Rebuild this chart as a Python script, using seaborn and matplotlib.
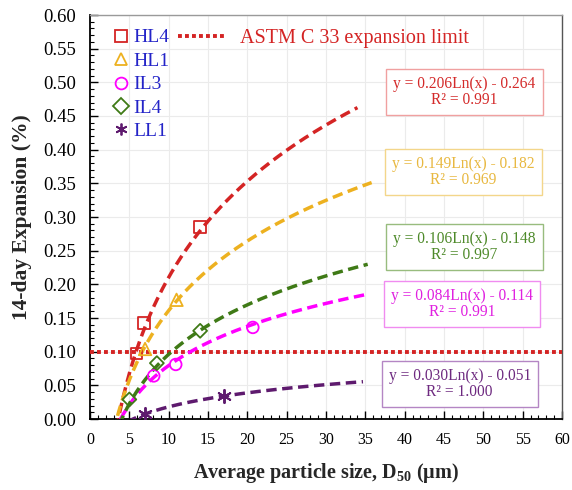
import numpy as np
import pandas as pd
import matplotlib
matplotlib.use('Agg')
import matplotlib.pyplot as plt
import seaborn as sns
from matplotlib.ticker import MultipleLocator, FormatStrFormatter
from matplotlib.lines import Line2D

# ---------------- data ----------------
series = ['HL4', 'HL1', 'IL3', 'IL4', 'LL1']
hl4_x = [5.9, 6.9, 14.0]
hl4_y = [0.097, 0.143, 0.285]
hl1_x = [7.0, 11.0]
hl1_y = [0.104, 0.177]
il3_x = [8.1, 10.9, 20.7]
il3_y = [0.064, 0.081, 0.136]
il4_x = [5.0, 8.5, 14.0]
il4_y = [0.029, 0.083, 0.131]
ll1_x = [7.0, 17.0]
ll1_y = [0.007, 0.034]
slopes = [0.206, 0.149, 0.084, 0.106, 0.030]
intercepts = [-0.264, -0.182, -0.114, -0.148, -0.051]
r_squared = [0.991, 0.969, 0.991, 0.997, 1.000]
fit_start = [3.0, 3.0, 3.0, 3.0, 3.0]
fit_end = [34.0, 35.8, 35.3, 35.3, 34.7]
astm_limit = 0.10
x_ticks = [0, 5, 10, 15, 20, 25, 30, 35, 40, 45, 50, 55, 60]
y_ticks = [0.00, 0.05, 0.10, 0.15, 0.20, 0.25, 0.30, 0.35, 0.40, 0.45, 0.50, 0.55, 0.60]

points_x = [hl4_x, hl1_x, il3_x, il4_x, ll1_x]
points_y = [hl4_y, hl1_y, il3_y, il4_y, ll1_y]

# ---------------- style ----------------
line_colors = ['#D42424', '#EDB120', '#FF00FF', '#3F7A16', '#5E1A6E']
text_colors = ['#D42A2A', '#E8B840', '#E020E0', '#4E8A2A', '#6E2A80']
edge_colors = ['#F0A0A0', '#F3D68A', '#F08CF0', '#98BC7E', '#B486C4']
markers = ['s', '^', 'o', 'D', (6, 2, 0)]
marker_sizes = [70, 80, 70, 50, 90]
box_pos = [(47.6, 0.486), (47.5, 0.367), (47.3, 0.171), (47.6, 0.255), (47.0, 0.052)]
SERIF = ['Liberation Serif', 'DejaVu Serif']

sns.set_theme(style='white')
plt.rcParams['font.family'] = SERIF
plt.rcParams['mathtext.fontset'] = 'custom'
plt.rcParams['mathtext.rm'] = 'Liberation Serif'
plt.rcParams['mathtext.bf'] = 'Liberation Serif:bold'
plt.rcParams['mathtext.it'] = 'Liberation Serif:italic'

fig = plt.figure(figsize=(5.72, 4.90), dpi=100)
ax = fig.add_axes([90 / 572, 1 - 419 / 490, 472 / 572, 404 / 490])

# ASTM limit line
lim_df = pd.DataFrame({'x': [0, 60], 'y': [astm_limit, astm_limit]})
sns.lineplot(data=lim_df, x='x', y='y', ax=ax, color='#D42424', lw=2.8,
             linestyle=(0, (1, 0.8)), zorder=3)

# fitted log curves and markers
for i, name in enumerate(series):
    xs = np.linspace(fit_start[i], fit_end[i], 300)
    ys = slopes[i] * np.log(xs) + intercepts[i]
    cdf = pd.DataFrame({'x': xs, 'y': ys})
    sns.lineplot(data=cdf, x='x', y='y', ax=ax, color=line_colors[i], lw=2.5,
                 linestyle=(0, (3, 1.6)), zorder=4)
    pdf = pd.DataFrame({'x': points_x[i], 'y': points_y[i]})
    sns.scatterplot(data=pdf, x='x', y='y', ax=ax, marker=markers[i],
                    s=marker_sizes[i], color=line_colors[i], zorder=5)
    coll = ax.collections[-1]
    if markers[i] == (6, 2, 0):
        coll.set_facecolor(line_colors[i])
        coll.set_edgecolor(line_colors[i])
        coll.set_linewidth(1.4)
    else:
        coll.set_facecolor('none')
        coll.set_edgecolor(line_colors[i])
        coll.set_linewidth(1.3)

    sign = '-' if intercepts[i] < 0 else '+'
    txt = f"y = {slopes[i]:.3f}Ln(x) {sign} {abs(intercepts[i]):.3f}\nR\u00b2 = {r_squared[i]:.3f}"
    ax.text(box_pos[i][0], box_pos[i][1], txt, ha='center', va='center',
            fontsize=11.2, color=text_colors[i], linespacing=1.0, zorder=6,
            fontfamily=SERIF,
            bbox=dict(boxstyle='square,pad=0.45', fc='white', ec=edge_colors[i], lw=1.0))

# axes
ax.set_xlim(0, 60)
ax.set_ylim(0, 0.60)
ax.set_xticks(x_ticks)
ax.set_yticks(y_ticks)
ax.yaxis.set_major_formatter(FormatStrFormatter('%.2f'))
ax.xaxis.set_minor_locator(MultipleLocator(1))
ax.yaxis.set_minor_locator(MultipleLocator(0.01))
ax.tick_params(axis='both', which='both', direction='in', left=True, bottom=True,
               top=False, right=False, colors='black')
ax.tick_params(axis='both', which='major', length=6, width=1.0)
ax.tick_params(axis='both', which='minor', length=3, width=0.8)
ax.tick_params(axis='y', which='major', labelsize=13.5, pad=10)
ax.tick_params(axis='x', which='major', labelsize=11.5, pad=9)
for lab in ax.get_xticklabels() + ax.get_yticklabels():
    lab.set_fontfamily(SERIF)
ax.grid(True, which='major', color='#ebebeb', lw=0.8)
ax.set_axisbelow(True)
for s in ['left', 'bottom']:
    ax.spines[s].set_color('black')
    ax.spines[s].set_linewidth(1.3)
ax.spines['top'].set_color('#9a9a9a')
ax.spines['right'].set_color('#555555')
for s in ['top', 'right']:
    ax.spines[s].set_linewidth(1.0)
    ax.spines[s].set_visible(True)

ax.set_xlabel(r'Average particle size, D$_{\mathbf{50}}$ ($\mathbf{\mu}$m)',
              fontsize=14.5, fontweight='bold', labelpad=10, fontfamily=SERIF)
ax.set_ylabel('14-day Expansion (%)', fontsize=15.5, fontweight='bold', labelpad=8,
              fontfamily=SERIF)

# legends
handles = [Line2D([], [], linestyle='none', marker=markers[i], markersize=8.5,
                  markerfacecolor='none' if i < 4 else line_colors[i],
                  markeredgecolor=line_colors[i], markeredgewidth=1.3)
           for i in range(len(series))]
leg1 = ax.legend(handles, series, loc='upper left', bbox_to_anchor=(0.035, 0.985),
                 frameon=False, prop={'family': SERIF, 'size': 14},
                 handlelength=0.7, handletextpad=0.3,
                 labelspacing=0.3, borderaxespad=0.0)
for t in leg1.get_texts():
    t.set_color('#2424C8')
ax.add_artist(leg1)
astm_handle = Line2D([], [], color='#D42424', lw=2.8, linestyle=(0, (1, 0.8)))
leg2 = ax.legend([astm_handle], ['ASTM C 33 expansion limit'], loc='upper left',
                 bbox_to_anchor=(0.17, 0.985), frameon=False,
                 prop={'family': SERIF, 'size': 14.5},
                 handlelength=2.3, handletextpad=0.75, borderaxespad=0.0)
for t in leg2.get_texts():
    t.set_color('#D42424')

fig.savefig('out.png', dpi=100)
